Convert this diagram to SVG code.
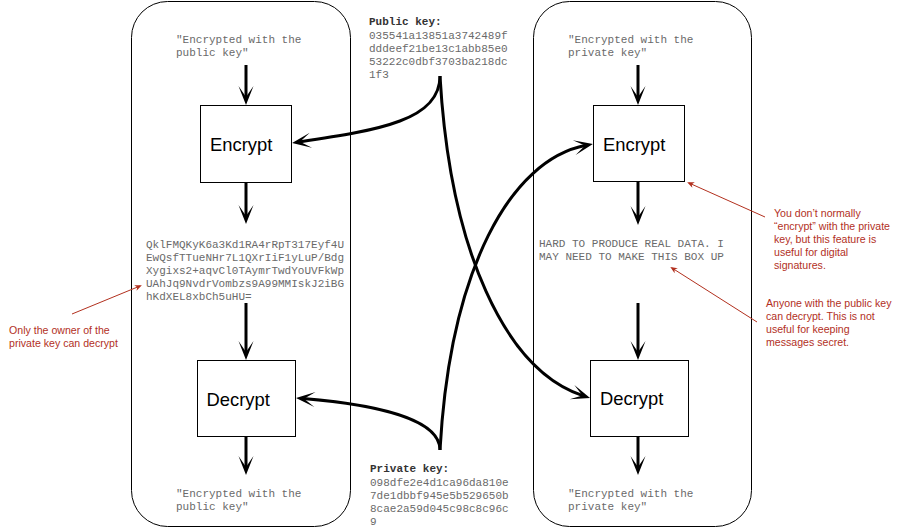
<svg xmlns="http://www.w3.org/2000/svg" width="902" height="530" viewBox="0 0 902 530">
<style>
.panel{fill:#fff;stroke:#000;stroke-width:1}
.box{fill:#fff;stroke:#000;stroke-width:1}
.lbl{font-family:"Liberation Sans",Arial,sans-serif;font-size:18.4px;fill:#000}
.mono{font-family:"Liberation Mono","Courier New",monospace;font-size:11px;fill:#6a6a6a}
.monob{font-family:"Liberation Mono","Courier New",monospace;font-size:11px;font-weight:bold;fill:#333}
.note{font-family:"Liberation Sans",Arial,sans-serif;font-size:10.6px;fill:#b2301e}
.edge{fill:none;stroke:#000;stroke-width:3}
.nedge{fill:none;stroke:#b2301e;stroke-width:1}
</style>
<defs>
<marker id="ah" markerUnits="userSpaceOnUse" viewBox="-21 -9 23 18" markerWidth="23" markerHeight="18" refX="-7" refY="0" orient="auto">
<path d="M0,0 L-19,-7.5 L-8,0 L-19,7.5 Z" fill="#000"/>
</marker>
<marker id="ahr" markerUnits="userSpaceOnUse" viewBox="-9 -5 10 10" markerWidth="10" markerHeight="10" refX="-2" refY="0" orient="auto">
<path d="M0,0 L-7,-3 L-5,0 L-7,3 Z" fill="#b2301e"/>
</marker>
</defs>

<g id="panel-public">
<rect class="panel" x="131.5" y="1.5" width="219" height="525" rx="36" ry="36"/>
</g>
<g id="panel-private">
<rect class="panel" x="533.5" y="1.5" width="218" height="525" rx="36" ry="36"/>
</g>

<g id="plain-left-top">
<text class="mono" x="176" y="43">"Encrypted with the</text>
<text class="mono" x="176" y="56">public key"</text>
</g>
<g id="encrypt-left">
<rect class="box" x="200.5" y="105.5" width="91" height="77"/>
<text class="lbl" x="210" y="151">Encrypt</text>
</g>
<g id="cipher-left">
<text class="mono" x="146" y="248">QklFMQKyK6a3Kd1RA4rRpT317Eyf4U</text>
<text class="mono" x="146" y="261">EwQsfTTueNHr7L1QXrIiF1yLuP/Bdg</text>
<text class="mono" x="146" y="274">Xygixs2+aqvCl0TAymrTwdYoUVFkWp</text>
<text class="mono" x="146" y="287">UAhJq9NvdrVombzs9A99MMIskJ2iBG</text>
<text class="mono" x="146" y="300">hKdXEL8xbCh5uHU=</text>
</g>
<g id="decrypt-left">
<rect class="box" x="197.5" y="360.5" width="98" height="76"/>
<text class="lbl" x="206.5" y="406">Decrypt</text>
</g>
<g id="plain-left-bottom">
<text class="mono" x="176" y="497">"Encrypted with the</text>
<text class="mono" x="176" y="510">public key"</text>
</g>

<g id="plain-right-top">
<text class="mono" x="568" y="43">"Encrypted with the</text>
<text class="mono" x="568" y="56">private key"</text>
</g>
<g id="encrypt-right">
<rect class="box" x="593.5" y="105.5" width="91" height="76"/>
<text class="lbl" x="603" y="151">Encrypt</text>
</g>
<g id="cipher-right">
<text class="mono" x="539" y="247">HARD TO PRODUCE REAL DATA. I</text>
<text class="mono" x="539" y="260">MAY NEED TO MAKE THIS BOX UP</text>
</g>
<g id="decrypt-right">
<rect class="box" x="590.5" y="360.5" width="98" height="76"/>
<text class="lbl" x="600" y="405">Decrypt</text>
</g>
<g id="plain-right-bottom">
<text class="mono" x="568" y="497">"Encrypted with the</text>
<text class="mono" x="568" y="510">private key"</text>
</g>

<g id="public-key">
<text class="monob" x="369" y="25">Public key:</text>
<text class="mono" x="369" y="38.5">035541a13851a3742489f</text>
<text class="mono" x="369" y="51.5">dddeef21be13c1abb85e0</text>
<text class="mono" x="369" y="64.5">53222c0dbf3703ba218dc</text>
<text class="mono" x="369" y="77.5">1f3</text>
</g>
<g id="private-key">
<text class="monob" x="370" y="472">Private key:</text>
<text class="mono" x="370" y="485.5">098dfe2e4d1ca96da810e</text>
<text class="mono" x="370" y="498.5">7de1dbbf945e5b529650b</text>
<text class="mono" x="370" y="511.5">8cae2a59d045c98c8c96c</text>
<text class="mono" x="370" y="524.5">9</text>
</g>

<g id="note-left">
<text class="note" x="9" y="334">Only the owner of the</text>
<text class="note" x="9" y="347">private key can decrypt</text>
</g>
<g id="note-encrypt">
<text class="note" x="774" y="217">You don’t normally</text>
<text class="note" x="774" y="230">“encrypt” with the private</text>
<text class="note" x="774" y="243">key, but this feature is</text>
<text class="note" x="774" y="256">useful for digital</text>
<text class="note" x="774" y="269">signatures.</text>
</g>
<g id="note-decrypt">
<text class="note" x="766" y="307">Anyone with the public key</text>
<text class="note" x="766" y="320">can decrypt. This is not</text>
<text class="note" x="766" y="333">useful for keeping</text>
<text class="note" x="766" y="346">messages secret.</text>
</g>

<g id="connectors">
<line class="edge" x1="246" y1="65" x2="246" y2="98" marker-end="url(#ah)"/>
<line class="edge" x1="246" y1="183" x2="246" y2="217" marker-end="url(#ah)"/>
<line class="edge" x1="246" y1="303" x2="246" y2="353" marker-end="url(#ah)"/>
<line class="edge" x1="246" y1="437" x2="246" y2="468" marker-end="url(#ah)"/>
<line class="edge" x1="638" y1="65" x2="638" y2="98" marker-end="url(#ah)"/>
<line class="edge" x1="638" y1="182" x2="638" y2="218" marker-end="url(#ah)"/>
<line class="edge" x1="638" y1="303" x2="638" y2="353" marker-end="url(#ah)"/>
<line class="edge" x1="638" y1="437" x2="638" y2="468" marker-end="url(#ah)"/>
<path class="edge" d="M440,76 C440,120 380,130 299,142" marker-end="url(#ah)"/>
<path class="edge" d="M440,76 C450,250 505,370 583.4,395.8" marker-end="url(#ah)"/>
<path class="edge" d="M440,450 C440,420 380,405 303,398.6" marker-end="url(#ah)"/>
<path class="edge" d="M440,450 C450,270 510,160 586,145.3" marker-end="url(#ah)"/>
<line class="nedge" x1="72" y1="314" x2="140" y2="286" marker-end="url(#ahr)"/>
<line class="nedge" x1="765" y1="217" x2="689" y2="183" marker-end="url(#ahr)"/>
<line class="nedge" x1="757" y1="322" x2="672" y2="268" marker-end="url(#ahr)"/>
</g>
</svg>
